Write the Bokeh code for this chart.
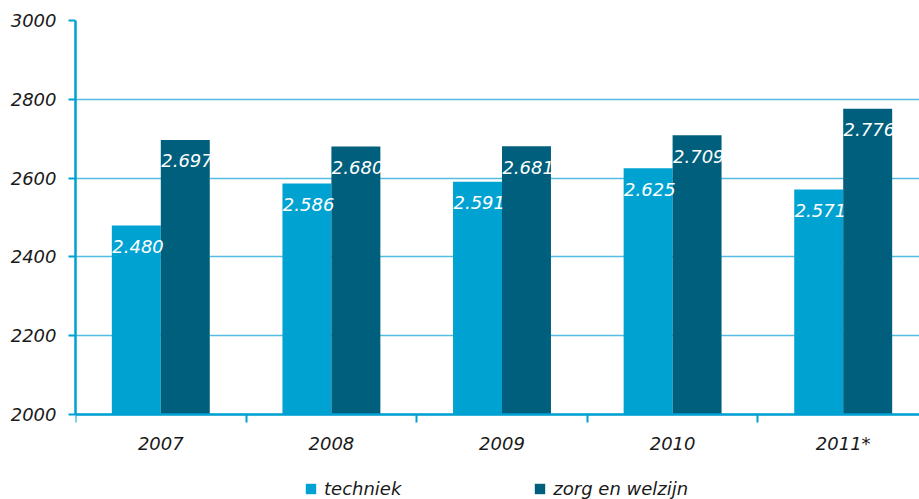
from bokeh.plotting import figure
from bokeh.models import ColumnDataSource, FixedTicker, Legend, LegendItem
from bokeh.transform import dodge
from bokeh.core.properties import value
from bokeh.embed import file_html
from bokeh.resources import INLINE

years = ["2007", "2008", "2009", "2010", "2011*"]
techniek = [2480, 2586, 2591, 2625, 2571]
zorg = [2697, 2680, 2681, 2709, 2776]
y_ticks = [2000, 2200, 2400, 2600, 2800, 3000]

C_TECH = "#00a2d1"
C_ZORG = "#005f7c"
C_AXIS = "#00a0d2"
C_GRID = "#55bde4"
FONT = "DejaVu Sans"
TXT = "#1a1a1a"

def fmt(v):
    return f"{v // 1000}.{v % 1000:03d}"

src = ColumnDataSource(dict(
    x=[i + 0.5 for i in range(len(years))],
    techniek=techniek, zorg=zorg,
    tl=[fmt(v) for v in techniek], zl=[fmt(v) for v in zorg],
))

# frame spans 20..499 px vertically; 2000..3000 occupies the top 394 px
y_low = 3000 - 479 / 0.394
p = figure(width=919, height=499, output_backend="svg", toolbar_location=None,
           x_range=(0, 844 / 170.6), y_range=(y_low, 3000),
           min_border_left=75, min_border_right=0, min_border_top=20, min_border_bottom=0)
p.outline_line_color = None
p.xgrid.grid_line_color = None
p.ygrid.grid_line_color = C_GRID
p.ygrid.grid_line_width = 1.3
p.ygrid.ticker = FixedTicker(ticks=y_ticks)

bw = 0.287
r1 = p.vbar(x=dodge("x", -bw / 2, range=p.x_range), top="techniek", bottom=2000, width=bw,
            source=src, fill_color=C_TECH, line_color=None)
r2 = p.vbar(x=dodge("x", bw / 2, range=p.x_range), top="zorg", bottom=2000, width=bw,
            source=src, fill_color=C_ZORG, line_color=None)

for col, lab, off in (("techniek", "tl", -bw / 2), ("zorg", "zl", bw / 2)):
    p.text(x=dodge("x", off + 0.01, range=p.x_range), y=col, text=lab, source=src,
           y_offset=21, text_align="center", text_baseline="middle",
           text_color="white", text_font=value(FONT), text_font_style="italic",
           text_font_size="18px")

# y axis
ya = p.yaxis[0]
ya.ticker = FixedTicker(ticks=y_ticks)
ya.bounds = (2000, 3000)
ya.axis_line_color = C_AXIS
ya.axis_line_width = 2.5
ya.major_tick_line_color = C_AXIS
ya.major_tick_line_width = 2
ya.major_tick_out = 7
ya.major_tick_in = 0
ya.minor_tick_line_color = None
ya.major_label_standoff = 12
ya.major_label_text_font = FONT
ya.major_label_text_font_style = "italic"
ya.major_label_text_font_size = "18px"
ya.major_label_text_color = TXT

# x axis, pinned at y = 2000
xa = p.xaxis[0]
xa.fixed_location = 2000
xa.ticker = FixedTicker(ticks=[i + 0.5 for i in range(len(years))],
                        minor_ticks=[float(i) for i in range(len(years) + 1)])
xa.major_label_overrides = {i + 0.5: y for i, y in enumerate(years)}
xa.axis_line_color = C_AXIS
xa.axis_line_width = 2.5
xa.major_tick_line_color = None
xa.major_tick_out = 0
xa.major_tick_in = 0
xa.minor_tick_line_color = C_AXIS
xa.minor_tick_line_width = 2
xa.minor_tick_out = 8
xa.minor_tick_in = 0
xa.major_label_standoff = 10
xa.major_label_text_font = FONT
xa.major_label_text_font_style = "italic"
xa.major_label_text_font_size = "18px"
xa.major_label_text_color = TXT

legend = Legend(items=[LegendItem(label="techniek", renderers=[r1]),
                       LegendItem(label="zorg en welzijn", renderers=[r2])],
                orientation="horizontal", location=(229, 0),
                glyph_width=13, glyph_height=13, label_standoff=7, spacing=132,
                padding=0, margin=0, border_line_color=None, background_fill_alpha=0,
                label_text_font=FONT, label_text_font_style="italic",
                label_text_font_size="18px", label_text_color=TXT,
                label_height=18)
p.add_layout(legend, "center")

open("out.html", "w").write(file_html(p, INLINE))
